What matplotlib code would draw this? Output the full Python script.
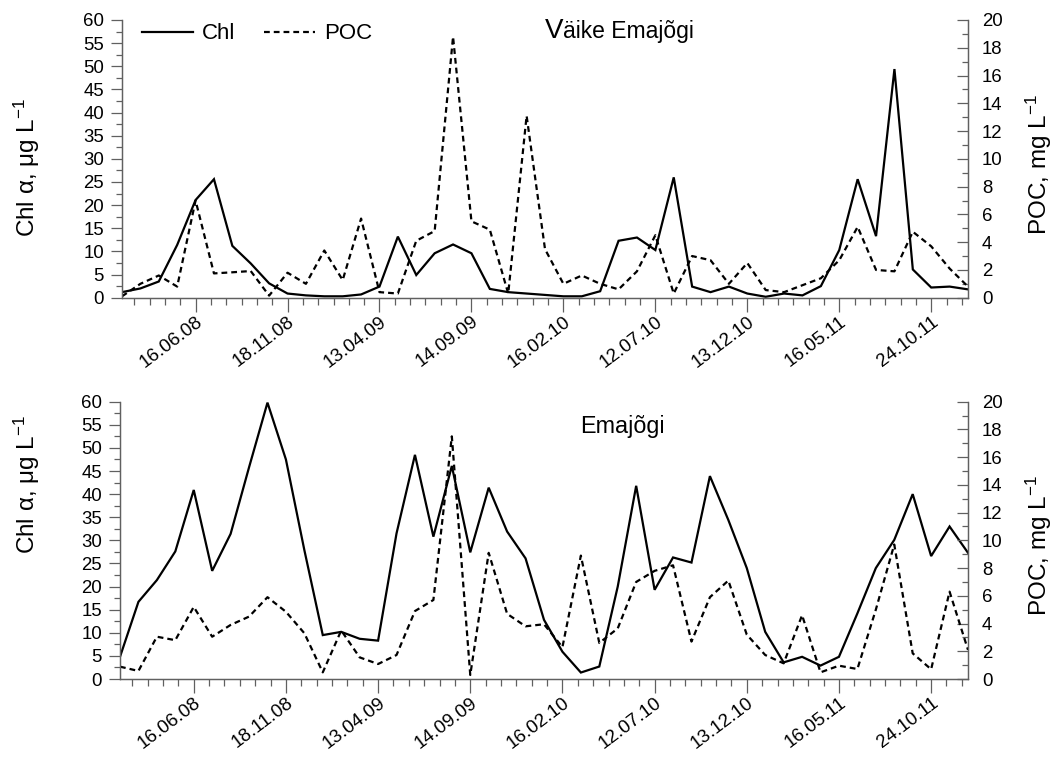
import numpy as np
import matplotlib
matplotlib.use("Agg")
import matplotlib.pyplot as plt
from matplotlib.ticker import FixedLocator, MultipleLocator
from matplotlib.lines import Line2D
from matplotlib.transforms import ScaledTranslation

plt.rcParams['font.family'] = ['Liberation Sans', 'DejaVu Sans']
plt.rcParams['mathtext.fontset'] = 'custom'
plt.rcParams['mathtext.rm'] = 'Liberation Sans'
plt.rcParams['mathtext.it'] = 'Liberation Sans:italic'
plt.rcParams['mathtext.default'] = 'regular'

# ---------------- data ----------------
tick_labels = ["16.06.08", "18.11.08", "13.04.09", "14.09.09", "16.02.10",
               "12.07.10", "13.12.10", "16.05.11", "24.10.11"]
tick_sample_index = [4, 9, 14, 19, 24, 29, 34, 39, 44]

chl_vaike = [1.2, 2.0, 3.5, 11.4, 21.1, 25.6, 11.2, 7.4, 3.1, 0.9,
             0.5, 0.3, 0.3, 0.7, 2.4, 13.2, 4.9, 9.6, 11.5, 9.6,
             1.9, 1.2, 0.9, 0.6, 0.3, 0.3, 1.4, 12.3, 13.0, 10.3,
             26.0, 2.4, 1.2, 2.4, 0.9, 0.2, 0.9, 0.5, 2.5, 10.3,
             25.6, 13.3, 49.4, 6.1, 2.2, 2.4, 1.8]
poc_vaike = [0.1, 1.0, 1.6, 0.8, 7.0, 1.75, 1.83, 1.92, 0.15, 1.8,
             1.0, 3.4, 1.27, 5.7, 0.4, 0.3, 4.1, 4.8, 18.8, 5.5,
             4.9, 0.3, 13.1, 3.5, 1.0, 1.6, 1.0, 0.6, 1.9, 4.5,
             0.3, 3.0, 2.7, 1.0, 2.5, 0.55, 0.4, 0.9, 1.4, 2.7,
             5.1, 2.0, 1.9, 4.75, 3.7, 2.1, 0.8]

chl_ema = [4.8, 16.7, 21.4, 27.6, 40.9, 23.4, 31.4, 45.8, 59.8, 47.5,
           27.9, 9.5, 10.2, 8.7, 8.3, 31.5, 48.5, 30.8, 46.1, 27.4,
           41.4, 31.9, 26.1, 12.8, 5.9, 1.4, 2.7, 20.0, 41.8, 19.3,
           26.3, 25.2, 43.9, 34.4, 24.0, 10.2, 3.6, 4.8, 2.9, 4.8,
           14.2, 24.0, 30.1, 40.0, 26.6, 33.0, 27.3]
poc_ema = [0.89, 0.58, 3.05, 2.8, 5.2, 3.05, 3.9, 4.5, 5.9, 4.85,
           3.3, 0.48, 3.5, 1.56, 1.08, 1.73, 4.9, 5.7, 17.5, 0.29,
           9.1, 4.7, 3.8, 3.95, 2.3, 8.9, 2.6, 3.65, 7.0, 7.8,
           8.2, 2.7, 5.9, 7.1, 3.2, 1.73, 1.13, 4.6, 0.48, 0.96,
           0.72, 5.0, 9.7, 1.85, 0.7, 6.3, 2.1]

x = np.arange(len(chl_vaike))

# ---------------- figure ----------------
W, H = 1058, 762
fig = plt.figure(figsize=(W / 100, H / 100), dpi=100)

spine_col = '#606060'
dash = (2.6, 1.8)


def make_panel(rect, chl, poc, left_label_y, right_label_y):
    ax = fig.add_axes(rect)
    ax2 = ax.twinx()
    ax.plot(x, chl, color='black', lw=1.6, solid_joinstyle='miter')
    ax2.plot(x, poc, color='black', lw=1.6, linestyle=(0, dash))
    ax.set_xlim(0, len(x) - 1)
    ax.set_ylim(0, 60)
    ax2.set_ylim(0, 20)
    ax.yaxis.set_major_locator(MultipleLocator(5))
    ax.yaxis.set_minor_locator(MultipleLocator(2.5))
    ax2.yaxis.set_major_locator(MultipleLocator(2))
    ax2.yaxis.set_minor_locator(MultipleLocator(1))
    ax.xaxis.set_major_locator(FixedLocator(tick_sample_index))
    step = 5 / 6
    start = tick_sample_index[0] - step * int(tick_sample_index[0] / step)
    ax.xaxis.set_minor_locator(FixedLocator(np.arange(start, len(x) - 1 + 1e-6, step)))
    labels = ax.set_xticklabels(tick_labels, rotation=37, ha='right', va='top',
                                rotation_mode='anchor', fontsize=13.6)
    off = ScaledTranslation(2 / 100, 0, fig.dpi_scale_trans)
    for lab in labels:
        lab.set_transform(lab.get_transform() + off)
    for a in (ax, ax2):
        for s in a.spines.values():
            s.set_color(spine_col)
            s.set_linewidth(0.9)
        a.spines['top'].set_visible(False)
    ax.tick_params(axis='y', which='major', direction='out', length=8, width=0.9,
                   color=spine_col, labelsize=13.4, pad=5)
    ax.tick_params(axis='y', which='minor', direction='out', length=4, width=0.9,
                   color=spine_col)
    ax.tick_params(axis='x', which='major', direction='out', length=10, width=0.9,
                   color=spine_col, pad=1)
    ax.tick_params(axis='x', which='minor', direction='out', length=5, width=0.9,
                   color=spine_col)
    ax2.tick_params(axis='y', which='major', direction='in', length=8, width=0.9,
                    color=spine_col, labelsize=13.4, pad=10)
    ax2.tick_params(axis='y', which='minor', direction='in', length=4, width=0.9,
                    color=spine_col)
    ax.set_ylabel(r'Chl $\alpha$, $\mu$g L$^{-1}$', fontsize=17.5)
    ax2.set_ylabel(r'POC, mg L$^{-1}$', fontsize=17.5)
    w_px = rect[2] * W
    x0 = rect[0] * W
    ax.yaxis.set_label_coords((42 - x0) / w_px, left_label_y)
    ax2.yaxis.set_label_coords((1024 - x0) / w_px, right_label_y)
    return ax, ax2


ax_top, ax_top2 = make_panel([122 / W, 1 - 297.7 / H, (968 - 122) / W, 277.7 / H],
                             chl_vaike, poc_vaike, 0.47, 0.48)
ax_bot, ax_bot2 = make_panel([120 / W, 1 - 679 / H, (968 - 120) / W, 277.3 / H],
                             chl_ema, poc_ema, 0.70, 0.48)

# titles
fig.text(545 / W, 1 - 38 / H, 'V', fontsize=20, ha='left', va='baseline')
fig.text(563 / W, 1 - 38 / H, 'äike Emajõgi', fontsize=16.5, ha='left', va='baseline')
fig.text(580 / W, 1 - 433 / H, 'Emajõgi', fontsize=16.8, ha='left', va='baseline')

# legend
handles = [Line2D([], [], color='black', lw=1.6),
           Line2D([], [], color='black', lw=1.6, linestyle=(0, dash))]
ax_top.legend(handles, ['Chl', 'POC'], ncol=2, frameon=False, fontsize=16,
              loc='upper left', bbox_to_anchor=(0.0, 1.06), handlelength=2.3,
              handletextpad=0.4, columnspacing=1.3)

fig.savefig('out.png', dpi=100)
